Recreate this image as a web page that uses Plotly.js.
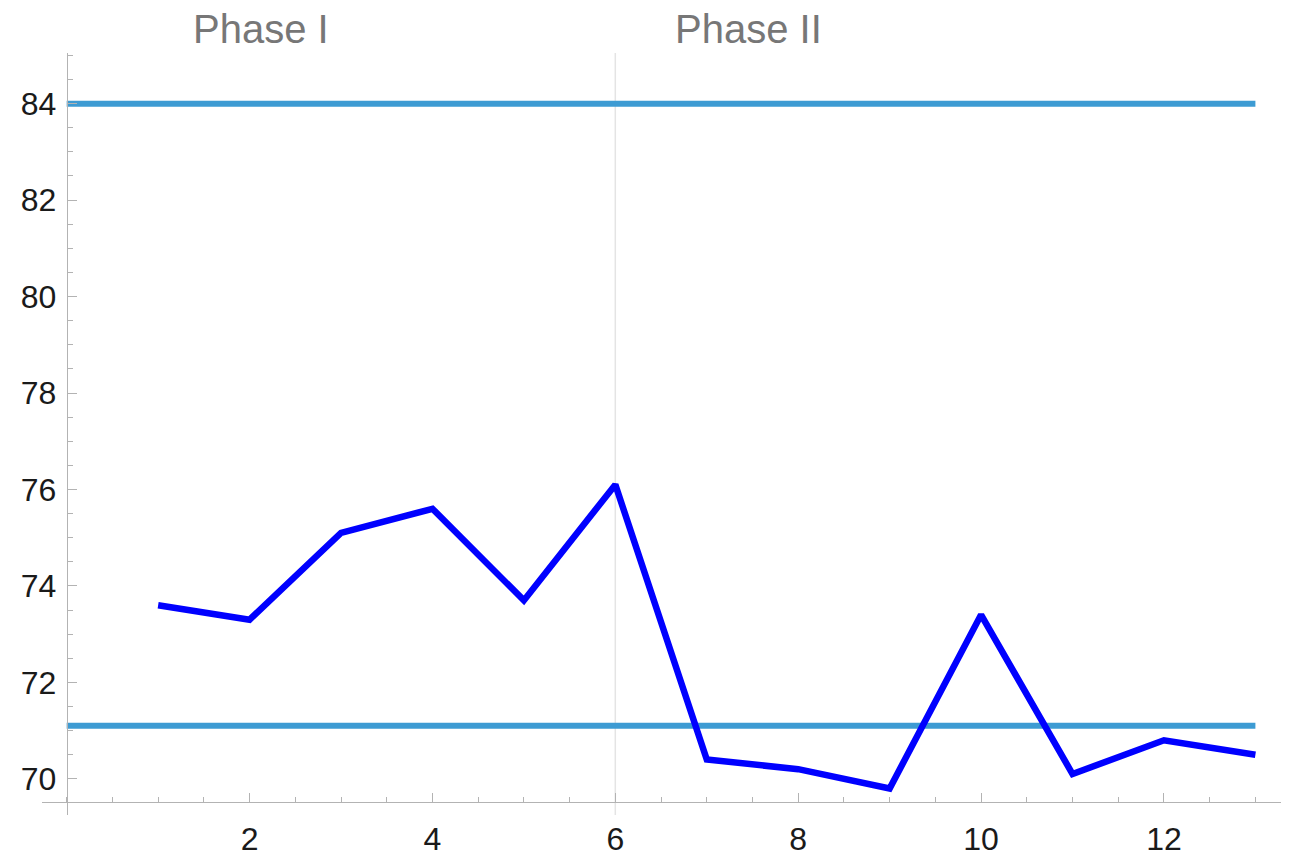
<!DOCTYPE html>
<html>
<head>
<meta charset="utf-8">
<script src="https://cdn.plot.ly/plotly-3.0.1.min.js"></script>
<style>
  html, body { margin: 0; padding: 0; background: #fff; }
  #chart { width: 1289px; height: 863px; }
</style>
</head>
<body>
<div id="chart"></div>
<script>
// data -----------------------------------------------------------------
const samples = [1, 2, 3, 4, 5, 6, 7, 8, 9, 10, 11, 12, 13];
const values = [73.6, 73.3, 75.1, 75.6, 73.7, 76.1, 70.4, 70.2, 69.8, 73.4, 70.1, 70.8, 70.5];

const limitX = [0, 13];
const upperLimit = [84, 84];
const lowerLimit = [71.1, 71.1];

const phaseSplit = 6;
const phaseLabels = ["Phase I", "Phase II"];
const phaseLabelX = [2.13, 7.46];

const xTicks = [2, 4, 6, 8, 10, 12];
const yTicks = [70, 72, 74, 76, 78, 80, 82, 84];

// axis geometry --------------------------------------------------------
const xRange = [-0.27, 13.28];
const yRange = [69.25, 85.05];
const xAxisAt = 69.52;   // where the horizontal axis crosses
const yAxisAt = 0;       // where the vertical axis crosses

const axisGray = "#b3b3b3";
const tickFont = { family: "Liberation Sans, Arial, sans-serif", size: 32, color: "#1a1a1a" };

// plot -----------------------------------------------------------------
const data = [
    { x: limitX, y: upperLimit, mode: "lines", line: { color: "#3d9bd3", width: 6 }, hoverinfo: "skip" },
    { x: limitX, y: lowerLimit, mode: "lines", line: { color: "#3d9bd3", width: 6 }, hoverinfo: "skip" },
    { x: samples, y: values, mode: "lines", line: { color: "#0000ff", width: 6.5 } }
];

const layout = {
    width: 1289,
    height: 863,
    margin: { l: 42, r: 8, t: 53, b: 48 },
    paper_bgcolor: "#ffffff",
    plot_bgcolor: "#ffffff",
    showlegend: false,
    xaxis: {
        range: xRange,
        anchor: "free",
        position: (xAxisAt - yRange[0]) / (yRange[1] - yRange[0]),
        showgrid: false,
        zeroline: false,
        showline: true,
        linecolor: axisGray,
        linewidth: 1.5,
        tickmode: "array",
        tickvals: xTicks,
        ticktext: xTicks.map(String),
        ticks: "inside",
        ticklen: 9,
        tickcolor: axisGray,
        tickfont: tickFont,
        ticklabelstandoff: 8,
        minor: { tickmode: "linear", tick0: 0, dtick: 0.5, ticks: "inside", ticklen: 5, tickcolor: axisGray, showgrid: false }
    },
    yaxis: {
        range: yRange,
        anchor: "free",
        position: (yAxisAt - xRange[0]) / (xRange[1] - xRange[0]),
        showgrid: false,
        zeroline: false,
        showline: true,
        linecolor: axisGray,
        linewidth: 1.5,
        tickmode: "array",
        tickvals: yTicks,
        ticktext: yTicks.map(String),
        ticks: "inside",
        ticklen: 9,
        tickcolor: axisGray,
        tickfont: tickFont,
        ticklabelstandoff: 4,
        minor: { tickmode: "linear", tick0: 70, dtick: 0.5, ticks: "inside", ticklen: 5, tickcolor: axisGray, showgrid: false }
    },
    shapes: [
        {
            type: "line", xref: "x", yref: "paper",
            x0: phaseSplit, x1: phaseSplit, y0: 0, y1: 1,
            line: { color: "#e4e4e4", width: 1.5 },
            layer: "below"
        }
    ],
    annotations: phaseLabels.map((t, i) => ({
        text: t,
        x: phaseLabelX[i],
        xref: "x",
        y: 1.031,
        yref: "paper",
        yanchor: "middle",
        showarrow: false,
        font: { family: "Liberation Sans, Arial, sans-serif", size: 40, color: "#777777" }
    }))
};

Plotly.newPlot("chart", data, layout, { staticPlot: true });
</script>
</body>
</html>
